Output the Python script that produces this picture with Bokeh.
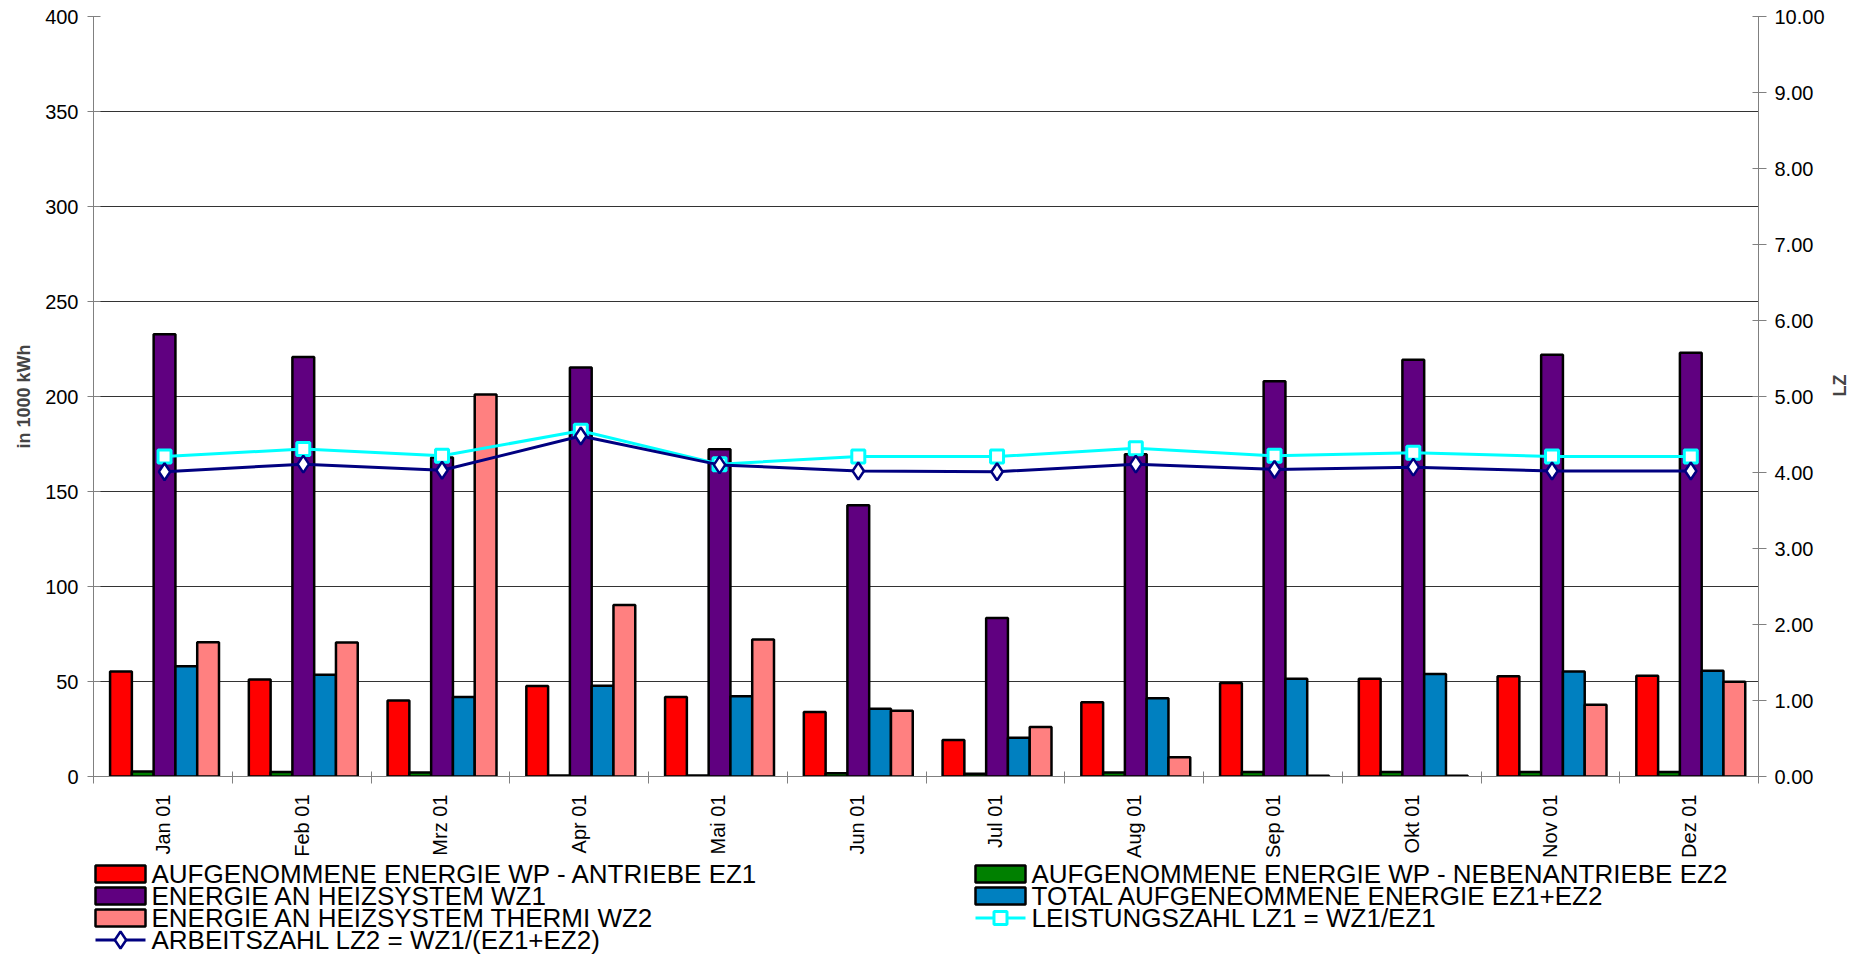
import math
import numpy as np
from bokeh.plotting import figure
from bokeh.layouts import column
from bokeh.models import (Range1d, LinearAxis, FixedTicker, PrintfTickFormatter)
from bokeh.core.properties import value
from bokeh.embed import file_html
from bokeh.resources import INLINE

# ---------------- data ----------------
months = ["Jan 01", "Feb 01", "Mrz 01", "Apr 01", "Mai 01", "Jun 01",
          "Jul 01", "Aug 01", "Sep 01", "Okt 01", "Nov 01", "Dez 01"]
ez1 = [55.3, 51.1, 40.0, 47.6, 41.9, 33.9, 19.2, 39.1, 49.2, 51.5, 52.7, 53.0]
ez2 = [2.6, 2.4, 2.1, 0.5, 0.5, 1.7, 1.4, 2.1, 2.4, 2.4, 2.4, 2.4]
wz1 = [232.8, 220.8, 167.9, 215.3, 172.2, 142.8, 83.4, 169.6, 208.0, 219.4, 222.0, 223.0]
ez_total = [58.0, 53.6, 41.9, 47.8, 42.2, 35.6, 20.4, 41.2, 51.5, 53.9, 55.3, 55.7]
wz2 = [70.7, 70.5, 201.0, 90.2, 72.1, 34.6, 26.0, 10.1, 0.4, 0.4, 37.7, 49.9]
lz1 = [4.21, 4.31, 4.22, 4.55, 4.11, 4.21, 4.21, 4.32, 4.22, 4.26, 4.21, 4.21]
lz2 = [4.01, 4.11, 4.03, 4.48, 4.10, 4.02, 4.01, 4.11, 4.04, 4.07, 4.02, 4.02]

left_ticks = [0, 50, 100, 150, 200, 250, 300, 350, 400]
right_ticks = [0, 1, 2, 3, 4, 5, 6, 7, 8, 9, 10]

labels = {
    "ez1": "AUFGENOMMENE ENERGIE WP - ANTRIEBE EZ1",
    "ez2": "AUFGENOMMENE ENERGIE WP - NEBENANTRIEBE EZ2",
    "wz1": "ENERGIE AN HEIZSYSTEM WZ1",
    "tot": "TOTAL AUFGENEOMMENE ENERGIE EZ1+EZ2",
    "wz2": "ENERGIE AN HEIZSYSTEM THERMI WZ2",
    "lz1": "LEISTUNGSZAHL LZ1 = WZ1/EZ1",
    "lz2": "ARBEITSZAHL LZ2 = WZ1/(EZ1+EZ2)",
}

colors = {"ez1": "#FF0000", "ez2": "#008000", "wz1": "#600080",
          "tot": "#0080C0", "wz2": "#FF8080", "lz1": "#00FFFF", "lz2": "#000080"}

# ---------------- geometry (category units) ----------------
n = len(months)
centers = np.arange(n) + 0.5
shift = 0.012
bw = 0.157
offsets = [-2 * bw, -bw, 0.0, bw, 2 * bw]

FONT = "Liberation Sans"
W = 1867
FRAME_L, FRAME_R = 93, 1758
TOP_H = 860

p = figure(width=W, height=TOP_H,
           x_range=Range1d(0, n), y_range=Range1d(0, 400),
           output_backend="svg", toolbar_location=None,
           min_border_left=FRAME_L, min_border_right=W - FRAME_R,
           min_border_top=16, min_border_bottom=TOP_H - 780)
p.extra_y_ranges = {"lz": Range1d(0, 10)}
p.outline_line_color = None

# grid
p.xgrid.visible = False
p.ygrid.ticker = FixedTicker(ticks=left_ticks)
p.ygrid.grid_line_color = "#333333"
p.ygrid.grid_line_width = 1

# bars
series = [("ez1", ez1), ("ez2", ez2), ("wz1", wz1), ("tot", ez_total), ("wz2", wz2)]
for (key, vals), off in zip(series, offsets):
    p.vbar(x=centers + off + shift, top=vals, bottom=0, width=bw,
           fill_color=colors[key], line_color="black", line_width=2.5)

# lines on right axis
xl = centers + shift
p.line(xl, lz1, line_color=colors["lz1"], line_width=3, y_range_name="lz")
p.scatter(xl, lz1, marker="square", size=13, fill_color="white",
          line_color=colors["lz1"], line_width=3, y_range_name="lz")
p.line(xl, lz2, line_color=colors["lz2"], line_width=3, y_range_name="lz")
p.scatter(xl, lz2, marker="diamond", size=17, fill_color="white",
          line_color=colors["lz2"], line_width=2.5, y_range_name="lz")

# left axis
ya = p.yaxis[0]
ya.ticker = FixedTicker(ticks=left_ticks)
ya.axis_label = "in 1000 kWh"
ya.axis_label_text_font = FONT
ya.axis_label_text_font_style = "bold"
ya.axis_label_text_font_size = "18px"
ya.axis_label_standoff = 8
ya.major_label_text_font = FONT
ya.major_label_text_font_size = "20px"
ya.major_label_text_color = "black"
ya.major_label_standoff = 9
ya.major_tick_out = 6
ya.major_tick_in = 7
ya.major_tick_line_color = "#808080"
ya.axis_line_color = "#808080"
ya.minor_tick_line_color = None

# right axis
ra = LinearAxis(y_range_name="lz", ticker=FixedTicker(ticks=right_ticks),
                formatter=PrintfTickFormatter(format="%.2f"))
ra.axis_label = "LZ"
ra.axis_label_text_font = FONT
ra.axis_label_text_font_style = "bold"
ra.axis_label_text_font_size = "18px"
ra.axis_label_standoff = 12
try:
    ra.axis_label_orientation = math.pi / 2
except Exception:
    pass
ra.major_label_text_font = FONT
ra.major_label_text_font_size = "20px"
ra.major_label_text_color = "black"
ra.major_label_standoff = 8
ra.major_tick_out = 8
ra.major_tick_in = 6
ra.major_tick_line_color = "#808080"
ra.axis_line_color = "#808080"
ra.minor_tick_line_color = None
p.add_layout(ra, "right")

# bottom axis: labels at centers, ticks at category boundaries
xa = p.xaxis[0]
xa.ticker = FixedTicker(ticks=list(centers), minor_ticks=list(np.arange(n + 1)))
xa.major_label_overrides = {float(c): m for c, m in zip(centers, months)}
xa.major_label_orientation = math.pi / 2
xa.major_label_text_font = FONT
xa.major_label_text_font_size = "20px"
xa.major_label_text_color = "black"
xa.major_label_standoff = 11
xa.major_tick_in = 0
xa.major_tick_out = 0
xa.minor_tick_in = 5
xa.minor_tick_out = 7
xa.minor_tick_line_color = "#808080"
xa.axis_line_color = "#808080"

# ---------------- legend strip below (page pixel coordinates) ----------------
# the column layout aligns this strip's frame with the chart frame,
# so its x range spans the chart frame's pixel extent
q = figure(width=W, height=957 - TOP_H, x_range=Range1d(FRAME_L, FRAME_R),
           y_range=Range1d(957, TOP_H),
           output_backend="svg", toolbar_location=None,
           x_axis_type=None, y_axis_type=None,
           min_border_left=FRAME_L, min_border_right=W - FRAME_R,
           min_border_top=0, min_border_bottom=0)
q.outline_line_color = None
q.xgrid.visible = False
q.ygrid.visible = False

col_x = [95, 975]
row_y = [873.5, 895.5, 917.5, 939.5]
legend_layout = [("ez1", 0, 0), ("ez2", 1, 0), ("wz1", 0, 1), ("tot", 1, 1),
                 ("wz2", 0, 2), ("lz1", 1, 2), ("lz2", 0, 3)]
sw_w, sw_h, gap = 50, 17, 6

for key, c, r in legend_layout:
    x0 = col_x[c]
    y0 = row_y[r]
    if key in ("lz1", "lz2"):
        q.line([x0, x0 + sw_w], [y0, y0], line_color=colors[key], line_width=3)
        if key == "lz1":
            q.scatter([x0 + sw_w / 2], [y0], marker="square", size=13, fill_color="white",
                      line_color=colors[key], line_width=3)
        else:
            q.scatter([x0 + sw_w / 2], [y0], marker="diamond", size=17, fill_color="white",
                      line_color=colors[key], line_width=2.5)
    else:
        q.rect([x0 + sw_w / 2], [y0], width=sw_w, height=sw_h,
               fill_color=colors[key], line_color="black", line_width=2.5)
    q.text([x0 + sw_w + gap], [y0], text=[labels[key]], text_font=value(FONT),
           text_font_size="26px", text_color="black",
           text_baseline="middle", text_align="left")

layout = column(p, q, spacing=0)
open("out.html", "w").write(file_html(layout, INLINE))
